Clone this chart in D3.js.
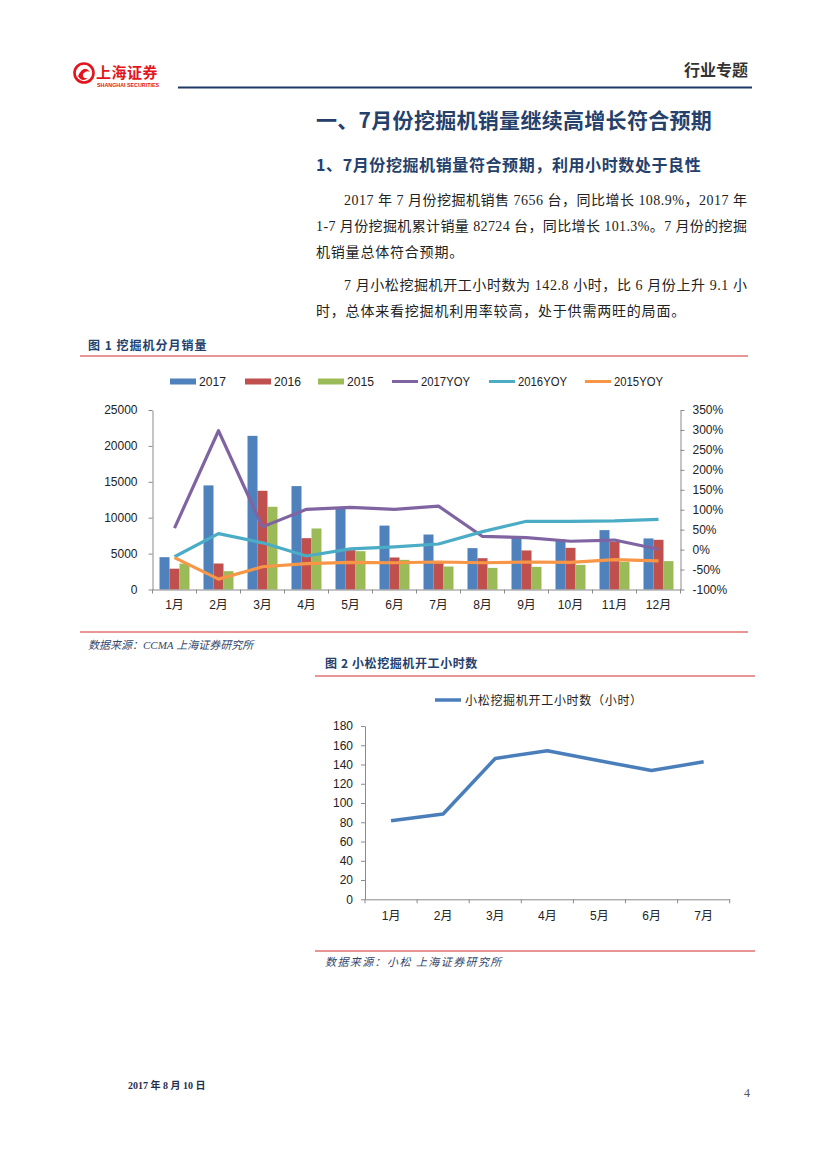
<!DOCTYPE html>
<html><head><meta charset="utf-8">
<script src="https://cdn.jsdelivr.net/npm/d3@7"></script>
<style>
body{margin:0;background:#fff}
text{font-kerning:none}
</style>
</head><body>
<svg id="page" width="827" height="1169" xmlns="http://www.w3.org/2000/svg"></svg>
<script>
// ---------- data ----------
const months = ["1月","2月","3月","4月","5月","6月","7月","8月","9月","10月","11月","12月"];
const barSeries = ["2017","2016","2015"];
const lineSeries = ["2017YOY","2016YOY","2015YOY"];
const sales2017 = [4500, 14500, 21400, 14400, 11400, 8900, 7656, 5760, 7200, 6970, 8270, 7110];
const sales2016 = [2900, 3620, 13750, 7150, 5480, 4460, 3665, 4360, 5440, 5800, 6640, 6920];
const sales2015 = [3600, 2550, 11520, 8500, 5340, 4130, 3200, 3010, 3150, 3430, 3850, 3950];
const yoy2017 = [54, 298, 57, 101, 106, 101, 109, 33, 30, 21, 24, 1];
const yoy2016 = [-18, 40, 17, -16, 2, 7, 14, 45, 71, 71, 72, 76];
const yoy2015 = [-20, -74, -43, -35, -32, -33, -31, -33, -31, -32, -25, -28];
const leftTicks = [0, 5000, 10000, 15000, 20000, 25000];
const rightTicks = [-100, -50, 0, 50, 100, 150, 200, 250, 300, 350];

const hourMonths = ["1月","2月","3月","4月","5月","6月","7月"];
const hours = [81.5, 88.6, 146.3, 154.2, 143.9, 133.7, 142.8];
const hourTicks = [0, 20, 40, 60, 80, 100, 120, 140, 160, 180];
const hourSeries = "小松挖掘机开工小时数（小时）";

const barColors = ["#4F81BD", "#C0504D", "#9BBB59"];
const lineColors = ["#8064A2", "#4BACC6", "#F79646"];

const svg = d3.select("#page");
const CJK = "'Noto Sans CJK SC', sans-serif";
const SANS = "'Liberation Sans', 'Noto Sans CJK SC', sans-serif";
const SERIF = "'Liberation Serif', 'Noto Sans CJK SC', serif";
const NAVY = "#24406B";
const RULE = "#E07272";
const AXIS = "#8A8A8A";

// ---------- header ----------
const logo = svg.append("g");
logo.append("circle").attr("cx", 84).attr("cy", 73).attr("r", 9.5)
  .attr("fill", "none").attr("stroke", "#E3141B").attr("stroke-width", 2.6);
logo.append("path").attr("d", "M78,76 Q84,64 90,72 Q86,70 83,74 Q82,79 88,78 Q82,83 78,76 Z")
  .attr("fill", "#E3141B");
logo.append("text").attr("x", 96).attr("y", 78).text("上海证券")
  .attr("font-family", CJK).attr("font-weight", "bold").attr("font-size", 15)
  .attr("fill", "#E3141B").attr("letter-spacing", 0.5);
logo.append("text").attr("x", 97).attr("y", 87).text("SHANGHAI SECURITIES")
  .attr("font-family", SANS).attr("font-weight", "bold").attr("font-size", 5)
  .attr("fill", "#E3141B").attr("textLength", 62).attr("lengthAdjust", "spacingAndGlyphs");

svg.append("text").attr("x", 748).attr("y", 76).attr("text-anchor", "end").text("行业专题")
  .attr("font-family", CJK).attr("font-weight", "bold").attr("font-size", 16).attr("fill", "#333");
svg.append("line").attr("x1", 178).attr("x2", 752).attr("y1", 87.5).attr("y2", 87.5)
  .attr("stroke", "#1F3864").attr("stroke-width", 2.2);

// ---------- titles ----------
svg.append("text").attr("x", 316).attr("y", 128).text("一、7月份挖掘机销量继续高增长符合预期")
  .attr("font-family", CJK).attr("font-weight", "bold").attr("font-size", 21).attr("fill", NAVY)
  .attr("letter-spacing", 0.3);
svg.append("text").attr("x", 316).attr("y", 171).text("1、7月份挖掘机销量符合预期，利用小时数处于良性")
  .attr("font-family", CJK).attr("font-weight", "bold").attr("font-size", 16).attr("fill", NAVY)
  .attr("letter-spacing", 0.6);

// ---------- body text ----------
const bodyLines = [
  {x: 344, y: 205, w: 403, t: "2017 年 7 月份挖掘机销售 7656 台，同比增长 108.9%，2017 年"},
  {x: 316, y: 231, w: 431, t: "1-7 月份挖掘机累计销量 82724 台，同比增长 101.3%。7 月份的挖掘"},
  {x: 316, y: 257, w: 0, t: "机销量总体符合预期。"},
  {x: 344, y: 290, w: 403, t: "7 月小松挖掘机开工小时数为 142.8 小时，比 6 月份上升 9.1 小"},
  {x: 316, y: 316, w: 0, t: "时，总体来看挖掘机利用率较高，处于供需两旺的局面。"}
];
bodyLines.forEach(l => {
  const t = svg.append("text").attr("x", l.x).attr("y", l.y).text(l.t)
    .attr("font-family", SERIF).attr("font-size", 14).attr("fill", "#222");
  if (l.w) t.attr("textLength", l.w).attr("lengthAdjust", "spacing");
  else t.attr("letter-spacing", 0.8);
});

// ---------- figure 1 caption ----------
svg.append("text").attr("x", 88).attr("y", 350).text("图 1  挖掘机分月销量")
  .attr("font-family", CJK).attr("font-weight", "bold").attr("font-size", 12).attr("fill", NAVY)
  .attr("letter-spacing", 1);
svg.append("line").attr("x1", 80).attr("x2", 748).attr("y1", 356).attr("y2", 356)
  .attr("stroke", RULE).attr("stroke-width", 1.4);
svg.append("line").attr("x1", 80).attr("x2", 748).attr("y1", 632).attr("y2", 632)
  .attr("stroke", RULE).attr("stroke-width", 1.4);
svg.append("text").attr("x", 88).attr("y", 649).text("数据来源：CCMA  上海证券研究所")
  .attr("font-family", SERIF).attr("font-style", "italic").attr("font-size", 11).attr("fill", "#33476B");

// ---------- chart 1 ----------
const c1 = {left: 152.5, right: 680.5, top: 410, bottom: 589.5};
const x = d3.scaleBand().domain(months).range([c1.left, c1.right]).padding(0);
const x1 = d3.scaleBand().domain(barSeries).range([0, 30]).padding(0);
const yL = d3.scaleLinear().domain([0, 25000]).range([c1.bottom, c1.top]);
const yR = d3.scaleLinear().domain([-100, 350]).range([c1.bottom, c1.top]);
const g1 = svg.append("g");

const salesBy = [sales2017, sales2016, sales2015];
barSeries.forEach((s, si) => {
  g1.append("g").selectAll("rect").data(months).join("rect")
    .attr("x", (m) => x(m) + (x.bandwidth() - 30) / 2 + x1(s))
    .attr("width", x1.bandwidth())
    .attr("y", (m, i) => yL(salesBy[si][i]))
    .attr("height", (m, i) => yL(0) - yL(salesBy[si][i]))
    .attr("fill", barColors[si]);
});

function styleAxis(g) {
  g.selectAll(".domain").attr("stroke", AXIS);
  g.selectAll(".tick line").attr("stroke", AXIS);
  g.selectAll(".tick text").attr("font-family", SANS).attr("font-size", 12).attr("fill", "#222");
}
g1.append("g").attr("transform", `translate(${c1.left},0)`)
  .call(d3.axisLeft(yL).tickValues(leftTicks).tickSize(4).tickSizeOuter(0).tickPadding(11).tickFormat(d3.format("d")))
  .call(styleAxis);
g1.append("g").attr("transform", `translate(${c1.right},0)`)
  .call(d3.axisRight(yR).tickValues(rightTicks).tickSize(4).tickSizeOuter(0).tickPadding(8).tickFormat(d => d + "%"))
  .call(styleAxis);
const xAx = g1.append("g").attr("transform", `translate(0,${c1.bottom})`)
  .call(d3.axisBottom(x).tickSize(0).tickPadding(11))
  .call(styleAxis);
xAx.selectAll(".bt").data(d3.range(months.length + 1)).join("line").attr("class", "bt")
  .attr("x1", i => c1.left + i * x.bandwidth()).attr("x2", i => c1.left + i * x.bandwidth())
  .attr("y1", 0).attr("y2", 4).attr("stroke", AXIS);

const yoyBy = [yoy2017, yoy2016, yoy2015];
const line1 = d3.line().x((d, i) => x(months[i]) + x.bandwidth() / 2).y(d => yR(d));
lineSeries.forEach((s, si) => {
  g1.append("path").datum(yoyBy[si]).attr("d", line1)
    .attr("fill", "none").attr("stroke", lineColors[si]).attr("stroke-width", 3.2)
    .attr("stroke-linejoin", "round").attr("stroke-linecap", "butt");
});

// legend chart 1
const leg = svg.append("g");
const legStarts = [170, 245, 318, 392, 489, 585];
const legY = 381.5;
barSeries.concat(lineSeries).forEach((s, i) => {
  const lx = legStarts[i];
  if (i < 3) {
    leg.append("rect").attr("x", lx).attr("y", legY - 3).attr("width", 26).attr("height", 6).attr("fill", barColors[i]);
  } else {
    leg.append("line").attr("x1", lx).attr("x2", lx + 26).attr("y1", legY).attr("y2", legY)
      .attr("stroke", lineColors[i - 3]).attr("stroke-width", 3);
  }
  leg.append("text").attr("x", lx + 29).attr("y", legY + 4.5).text(s)
    .attr("font-family", SANS).attr("font-size", 12).attr("fill", "#222")
    .attr("textLength", i < 3 ? 27 : 49).attr("lengthAdjust", "spacingAndGlyphs");
});

// ---------- figure 2 caption ----------
svg.append("text").attr("x", 325).attr("y", 668).text("图 2 小松挖掘机开工小时数")
  .attr("font-family", CJK).attr("font-weight", "bold").attr("font-size", 12).attr("fill", NAVY)
  .attr("letter-spacing", 0.6);
svg.append("line").attr("x1", 315).attr("x2", 755).attr("y1", 676).attr("y2", 676)
  .attr("stroke", RULE).attr("stroke-width", 1.4);
svg.append("line").attr("x1", 315).attr("x2", 755).attr("y1", 951).attr("y2", 951)
  .attr("stroke", RULE).attr("stroke-width", 1.4);
svg.append("text").attr("x", 325).attr("y", 966).text("数据来源：小松  上海证券研究所")
  .attr("font-family", SERIF).attr("font-style", "italic").attr("font-size", 11).attr("fill", "#33476B")
  .attr("letter-spacing", 1.4);

// ---------- chart 2 ----------
const c2 = {left: 365, right: 729.7, top: 726, bottom: 899.3};
const x2 = d3.scaleBand().domain(hourMonths).range([c2.left, c2.right]).padding(0);
const y2 = d3.scaleLinear().domain([0, 180]).range([c2.bottom, c2.top]);
const g2 = svg.append("g");
g2.append("g").attr("transform", `translate(${c2.left},0)`)
  .call(d3.axisLeft(y2).tickValues(hourTicks).tickSize(4).tickSizeOuter(0).tickPadding(8))
  .call(styleAxis);
const xAx2 = g2.append("g").attr("transform", `translate(0,${c2.bottom})`)
  .call(d3.axisBottom(x2).tickSize(0).tickPadding(12))
  .call(styleAxis);
xAx2.selectAll(".bt").data(d3.range(hourMonths.length + 1)).join("line").attr("class", "bt")
  .attr("x1", i => c2.left + i * x2.bandwidth()).attr("x2", i => c2.left + i * x2.bandwidth())
  .attr("y1", 0).attr("y2", 4).attr("stroke", AXIS);
g2.append("path").datum(hours)
  .attr("d", d3.line().x((d, i) => x2(hourMonths[i]) + x2.bandwidth() / 2).y(d => y2(d)))
  .attr("fill", "none").attr("stroke", "#4A7EBB").attr("stroke-width", 3.5).attr("stroke-linejoin", "round");
svg.append("line").attr("x1", 435).attr("x2", 461).attr("y1", 700).attr("y2", 700)
  .attr("stroke", "#4A7EBB").attr("stroke-width", 3.5);
svg.append("text").attr("x", 465).attr("y", 704.5).text(hourSeries)
  .attr("font-family", CJK).attr("font-size", 12).attr("fill", "#222").attr("letter-spacing", 0.7);

// ---------- footer ----------
svg.append("text").attr("x", 128).attr("y", 1089).text("2017 年 8 月 10 日")
  .attr("font-family", SERIF).attr("font-weight", "bold").attr("font-size", 10).attr("fill", "#1F2F4F");
svg.append("text").attr("x", 744).attr("y", 1097).text("4")
  .attr("font-family", SERIF).attr("font-size", 12).attr("fill", "#555");
</script>
</body></html>
